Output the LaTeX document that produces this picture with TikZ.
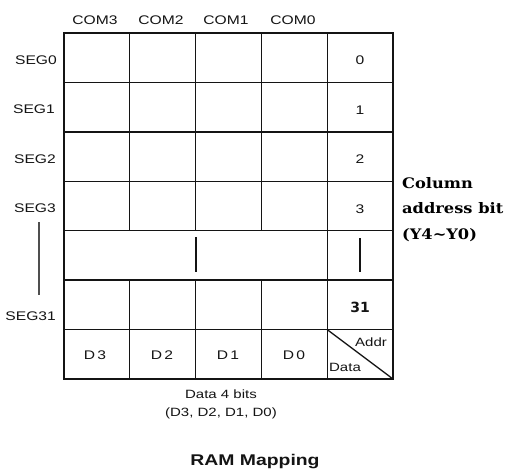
\documentclass[tikz,border=0pt]{standalone}
\usepackage{fontspec}
\setmainfont{Liberation Sans}
\newfontfamily\sansw[FakeStretch=1.25]{Liberation Sans}
\newfontfamily\serifw[FakeStretch=1.12]{DejaVu Serif}
\newfontfamily\numfont{DejaVu Sans}
\definecolor{ink}{HTML}{141414}
\tikzset{
  gridline/.style={line width=1.3pt, draw=ink},
  lbl/.style={inner sep=0pt, text=ink, font=\sansw\fontsize{12.5}{14}\selectfont},
  small/.style={inner sep=0pt, text=ink, font=\sansw\fontsize{12}{13}\selectfont},
  seglbl/.style={lbl, anchor=east},
}
\begin{document}
\begin{tikzpicture}[x=1pt,y=-1pt]
\useasboundingbox[fill=white] (0,0) rectangle (513,474);
% grid
\draw[gridline] (64,33) rectangle (393,379);
\foreach \y in {82.4,131.9,181.3,230.7,280.1,329.6}
  \draw[gridline] (64,\y) -- (393,\y);
\foreach \x in {129.8,195.6,261.4}{
  \draw[gridline] (\x,33) -- (\x,230.7);
  \draw[gridline] (\x,280.1) -- (\x,379);
}
\draw[gridline] (327.2,33) -- (327.2,379);
% continuation bars
\draw[gridline] (196,237) -- (196,272);
\draw[gridline] (360,238) -- (360,272);
% diagonal in corner cell
\draw[gridline] (327.2,329.6) -- (393,379);
% column headers
\node[lbl] (com3) at (95,20) {COM3};
\node[lbl] (com2) at (161,20) {COM2};
\node[lbl] (com1) at (226,20) {COM1};
\node[lbl] (com0) at (293,20) {COM0};
% row labels
\node[seglbl] (seg0) at (57,60) {SEG0};
\node[seglbl] (seg1) at (55,109) {SEG1};
\node[seglbl] (seg2) at (56,159) {SEG2};
\node[seglbl] (seg3) at (56,208) {SEG3};
\node[seglbl] (seg31) at (56,316) {SEG31};
\draw[line width=1.3pt, draw=ink!75] (39,222) -- (39,295);
% address numbers
\node[lbl] (a0) at (360,60) {0};
\node[lbl] (a1) at (360,110) {1};
\node[lbl] (a2) at (360,159) {2};
\node[lbl] (a3) at (360,209) {3};
\node[inner sep=0pt, text=ink, font=\numfont\bfseries\fontsize{14}{15}\selectfont] (a31) at (360,307) {31};
% data bits
\node[lbl] (d3) at (95,355) {D\,3};
\node[lbl] (d2) at (162,355) {D\,2};
\node[lbl] (d1) at (228,355) {D\,1};
\node[lbl] (d0) at (294,355) {D\,0};
\node[small] (addr) at (371,342) {Addr};
\node[small] (data) at (345,367) {Data};
% captions
\node[lbl, align=center, font=\sansw\fontsize{12}{18}\selectfont] (bits) at (221,404) {Data 4 bits\\(D3, D2, D1, D0)};
\node[inner sep=0pt, text=ink, font=\sansw\bfseries\fontsize{15.5}{18}\selectfont] (title) at (255,462) {RAM Mapping};
\node[inner sep=0pt, anchor=north west, align=left, text=black, font=\serifw\bfseries\fontsize{14.5}{25.5}\selectfont] (coladdr) at (402,177) {Column\\address bit\\(Y4\textasciitilde Y0)};
\end{tikzpicture}
\end{document}
